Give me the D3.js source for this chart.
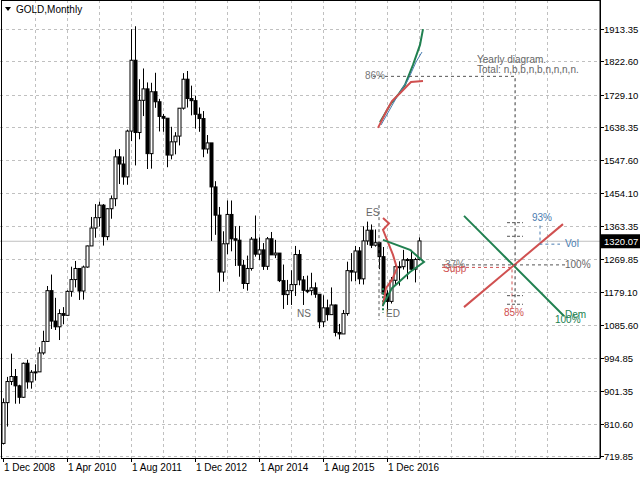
<!DOCTYPE html><html><head><meta charset="utf-8">
<script src="https://cdn.jsdelivr.net/npm/d3@7"></script>
<style>body{margin:0;background:#fff}text{font-family:"Liberation Sans",Arial,sans-serif;font-size:10px}.ax{font-size:9.5px}</style></head><body>
<svg id="c" width="640" height="480"></svg>
<script>
// Monthly gold, Dec 2008 .. Aug 2017
const closes=[869,928,942,916,884,979,927,954,955,1008,1040,1182,1097,1081,1118,1113,1180,1213,1244,1181,1248,1307,1357,1386,1421,1333,1411,1439,1556,1536,1500,1628,1826,1624,1714,1746,1565,1738,1710,1669,1664,1561,1598,1614,1692,1773,1719,1713,1675,1663,1578,1595,1472,1393,1234,1313,1395,1327,1323,1253,1202,1244,1326,1284,1296,1250,1327,1282,1287,1210,1171,1182,1199,1283,1212,1183,1182,1190,1172,1095,1134,1115,1142,1065,1061,1118,1238,1234,1293,1215,1321,1351,1309,1316,1277,1173,1152,1211,1249,1249,1268,1269,1242,1269,1321];
const highs=[881,941,1006,963,919,981,989,960,976,1024,1070,1195,1227,1162,1130,1136,1183,1249,1265,1241,1252,1308,1388,1424,1431,1424,1412,1448,1576,1578,1557,1632,1913,1921,1773,1803,1764,1763,1791,1718,1676,1640,1640,1625,1692,1790,1796,1755,1727,1694,1684,1617,1594,1488,1416,1348,1434,1434,1362,1363,1268,1280,1332,1392,1331,1315,1332,1346,1324,1287,1255,1212,1239,1307,1296,1223,1224,1232,1205,1172,1169,1157,1191,1143,1089,1128,1263,1287,1307,1304,1362,1375,1367,1353,1316,1304,1183,1220,1264,1264,1296,1273,1296,1274,1331];
const lows=[752,802,918,866,866,882,908,908,931,990,1003,1041,1075,1072,1044,1088,1113,1165,1191,1156,1157,1246,1314,1330,1361,1308,1323,1383,1418,1480,1478,1478,1600,1532,1605,1670,1522,1523,1693,1627,1626,1527,1549,1563,1588,1688,1694,1672,1635,1626,1555,1565,1321,1338,1180,1207,1284,1292,1251,1221,1187,1182,1238,1277,1268,1240,1240,1282,1273,1206,1131,1142,1142,1167,1197,1142,1175,1169,1162,1077,1080,1098,1135,1054,1046,1062,1112,1208,1208,1200,1199,1310,1301,1305,1242,1171,1123,1146,1200,1196,1241,1214,1237,1205,1267];
const firstOpen=755;
const yTicks=[1913.35,1822.60,1729.10,1638.35,1547.60,1454.10,1363.35,1269.85,1179.10,1085.60,994.85,901.35,810.60,719.85];
const xLabels=[[0,"1 Dec 2008"],[16,"1 Apr 2010"],[32,"1 Aug 2011"],[48,"1 Dec 2012"],[64,"1 Apr 2014"],[80,"1 Aug 2015"],[96,"1 Dec 2016"]];
const lastPrice=1320.07;
const fanGreen=[[94.25,1653],[96.75,1701],[98.75,1729],[100.5,1757],[102.5,1813],[104.25,1869],[105,1913]];
const fanBlue=[[94.5,1645],[98.75,1729],[101.25,1771],[103.25,1821],[104.75,1849]];
const fanRed=[[93.75,1637],[96,1687],[97.25,1712],[99.25,1734],[101,1754],[102,1765],[105,1768]];
const zigRed=[[95,1385],[96.5,1370],[95,1352],[97.5,1282],[98.5,1245],[97.25,1212],[95.75,1189],[95,1142]];
const zigGreen=[[95,1324],[101.75,1296],[105.25,1262],[101.75,1234],[97.25,1189],[95,1142]];
const demLine=[[115.25,1391],[140.25,1111]];
const supLine=[[115.25,1136],[140,1368]];

const svg=d3.select("#c");
const x=d3.scaleLinear().domain([0,1]).range([3,7]);
const y=d3.scaleLinear().domain([719.85,1913.35]).range([456,29]);
const L=0,R=600,T=0,B=458;
svg.append("g").selectAll("line").data(yTicks).join("line").attr("x1",L).attr("x2",R).attr("y1",d=>Math.round(y(d))+.5).attr("y2",d=>Math.round(y(d))+.5).attr("stroke","#c0c0c0").attr("stroke-dasharray","3,3");
svg.append("g").selectAll("line").data(d3.range(8,140,8)).join("line").attr("y1",T).attr("y2",B).attr("x1",d=>Math.round(x(d))+.5).attr("x2",d=>Math.round(x(d))+.5).attr("stroke","#c0c0c0").attr("stroke-dasharray","3,3");
svg.append("line").attr("x1",L).attr("x2",R).attr("y1",y(lastPrice)).attr("y2",y(lastPrice)).attr("stroke","#c0c0c0");
svg.append("rect").attr("x",1.5).attr("y",.5).attr("width",R-1.5).attr("height",B).attr("fill","none").attr("stroke","#000");
const c=svg.append("g");
closes.forEach((cl,i)=>{
  const op=i?closes[i-1]:firstOpen, cx=Math.round(x(i))+.5;
  c.append("line").attr("x1",cx).attr("x2",cx).attr("y1",y(highs[i])).attr("y2",y(lows[i])).attr("stroke","#000");
  const t=Math.min(y(op),y(cl)),h=Math.max(1,Math.abs(y(op)-y(cl)));
  c.append("rect").attr("x",cx-1.5).attr("y",t).attr("width",3).attr("height",h).attr("fill",cl>=op?"#fff":"#000").attr("stroke","#000").attr("stroke-width",1);
});
const line=d3.line().x(d=>x(d[0])).y(d=>y(d[1]));
const path=(d,col,w,dash)=>svg.append("path").attr("d",line(d)).attr("fill","none").attr("stroke",col).attr("stroke-width",w).attr("stroke-dasharray",dash||null);
const gray="#555",red="#d05050",green="#208050",blue="#4a7cb0";
path(fanGreen,green,2);path(fanBlue,blue,1);path(fanRed,red,2);
path([[92.5,1781],[128,1781],[128,1150]],gray,1,"3,3");
path([[94,1421],[94,1100]],gray,1,"3,3");
path([[95,1189],[95,1120]],green,2,"2,2");
path(zigRed,red,2);path(zigGreen,green,2);
path(demLine,green,2);path(supLine,red,2);
path([[109.75,1254],[140.5,1254]],gray,1,"3,3");
path([[109.75,1247],[127.25,1247],[127.25,1132]],red,1,"3,3");
path([[134.25,1364],[134.25,1312],[139.25,1312]],blue,1,"3,3");
[[1372],[1334],[1168],[1144]].forEach(d=>path([[126,d[0]],[130,d[0]]],gray,1,"3,2"));
const txt=(s,px,py,col,anchor)=>svg.append("text").attr("x",px).attr("y",py).attr("fill",col).attr("text-anchor",anchor||"start").text(s);
txt("86%",x(90.5),y(1781)+3,"#777");
txt("Yearly diagram.",477,63,"#666");txt("Total: n,b,b,n,b,n,n,n,n.",477,73,"#666");
txt("ES",366,216,"#666");txt("ED",386,317,"#666");txt("NS",297,317,"#666");
txt("93%",532,221,blue);txt("Vol",565,247,blue);txt("100%",565,268,"#666");
txt("37%",445,268,"#777");txt("Supp",443,272,red);txt("85%",504,316,red);
txt("100%",555,323,green);txt("Dem",565,318,green);
svg.append("line").attr("x1",R+.5).attr("x2",R+.5).attr("y1",0).attr("y2",B).attr("stroke","#000");
yTicks.forEach(v=>{svg.append("line").attr("x1",R).attr("x2",R+4).attr("y1",Math.round(y(v))+.5).attr("y2",Math.round(y(v))+.5).attr("stroke","#000");txt(v.toFixed(2),R+4,y(v)+4,"#000").attr("class","ax");});
svg.append("rect").attr("x",R+1).attr("y",y(lastPrice)-7).attr("width",39).attr("height",14).attr("fill","#000");
txt(lastPrice.toFixed(2),R+4,y(lastPrice)+4,"#fff").attr("class","ax");
xLabels.forEach(([i,s])=>{svg.append("line").attr("x1",Math.round(x(i))+.5).attr("x2",Math.round(x(i))+.5).attr("y1",B).attr("y2",B+4).attr("stroke","#000");txt(s,x(i)+1,471,"#000");});
svg.append("path").attr("d","M5,7 L11,7 L8,11 Z").attr("fill","#000");
txt("GOLD,Monthly",16,13,"#000");
</script></body></html>
